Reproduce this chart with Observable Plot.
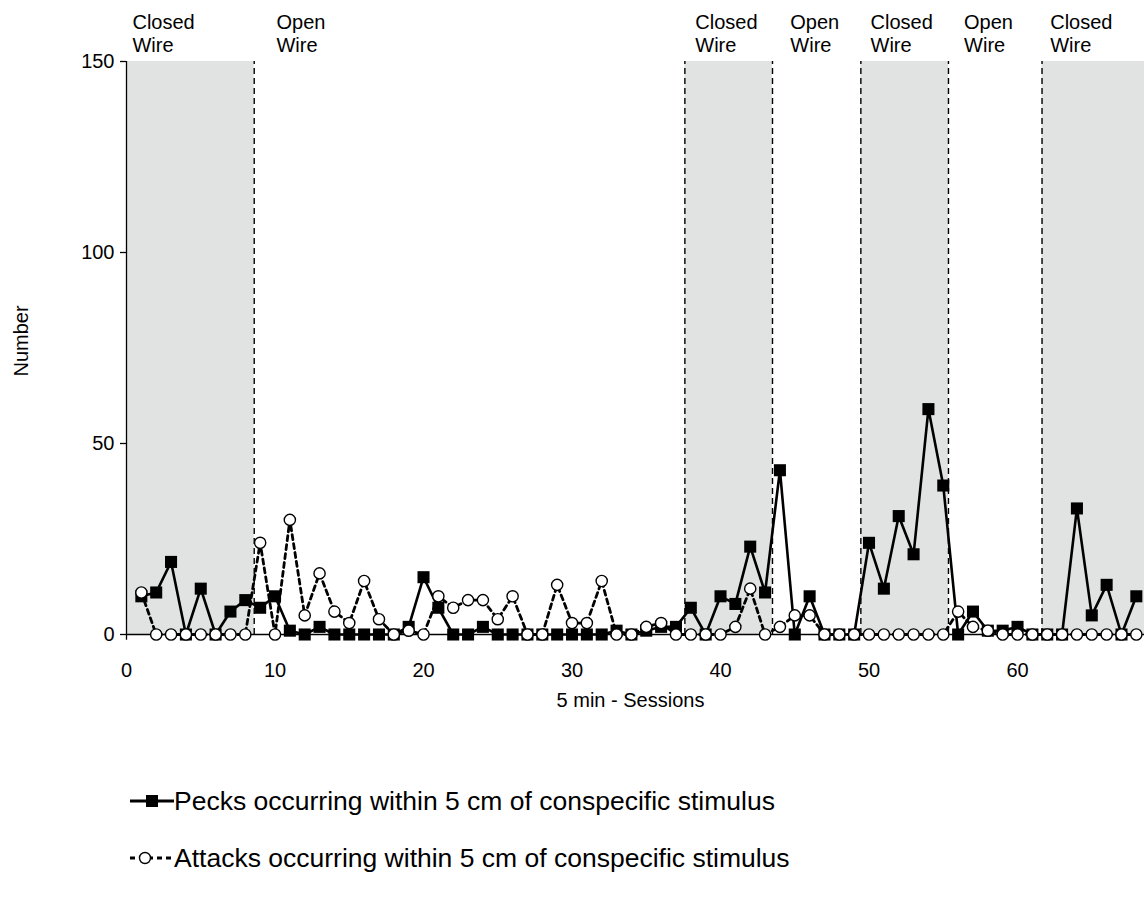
<!DOCTYPE html>
<html><head><meta charset="utf-8">
<script src="https://cdn.jsdelivr.net/npm/d3@7"></script>
<script src="https://cdn.jsdelivr.net/npm/@observablehq/plot@0.6"></script>
<style>
body{margin:0;background:#fff;font-family:"Liberation Sans",Arial,sans-serif;}
#wrap{position:relative;width:1144px;height:898px;overflow:hidden;}
.leg{position:absolute;left:128px;height:40px;display:flex;align-items:center;font-size:26.5px;color:#000;white-space:nowrap;}
.leg svg{flex:none;}
</style></head><body>
<div id="wrap"><div id="chart"></div>
<div class="leg" style="top:781px"><svg width="46" height="40"><line x1="2" x2="46" y1="20" y2="20" stroke="#000" stroke-width="2.8"/><rect x="18" y="14" width="12" height="12" fill="#000"/></svg><span>Pecks occurring within 5 cm of conspecific stimulus</span></div>
<div class="leg" style="top:838px"><svg width="46" height="40"><line x1="2" x2="46" y1="20" y2="20" stroke="#000" stroke-width="2.8" stroke-dasharray="5,4"/><circle cx="17" cy="20" r="5.5" fill="#fff" stroke="#000" stroke-width="1.4"/></svg><span>Attacks occurring within 5 cm of conspecific stimulus</span></div>
</div>
<script>
// Data (sessions 1..68)
const pecks = [10, 11, 19, 0, 12, 0, 6, 9, 7, 10,
  1, 0, 2, 0, 0, 0, 0, 0, 2, 15,
  7, 0, 0, 2, 0, 0, 0, 0, 0, 0,
  0, 0, 1, 0, 1, 2, 2, 7, 0, 10,
  8, 23, 11, 43, 0, 10, 0, 0, 0, 24,
  12, 31, 21, 59, 39, 0, 6, 1, 1, 2,
  0, 0, 0, 33, 5, 13, 0, 10];
const attacks = [11, 0, 0, 0, 0, 0, 0, 0, 24, 0,
  30, 5, 16, 6, 3, 14, 4, 0, 1, 0,
  10, 7, 9, 9, 4, 10, 0, 0, 13, 3,
  3, 14, 0, 0, 2, 3, 0, 0, 0, 0,
  2, 12, 0, 2, 5, 5, 0, 0, 0, 0,
  0, 0, 0, 0, 0, 6, 2, 1, 0, 0,
  0, 0, 0, 0, 0, 0, 0, 0];
const phaseBoundaries = [8.6, 37.6, 43.5, 49.45, 55.35, 61.65];
const closedStart = [0, 37.6, 49.45, 61.65];
const closedEnd = [8.6, 43.5, 55.35, 68.55];
const phaseLabels = ["Closed\nWire", "Open\nWire", "Closed\nWire", "Open\nWire", "Closed\nWire", "Open\nWire", "Closed\nWire"];
const phaseLabelX = [0.4, 10.1, 38.3, 44.7, 50.1, 56.4, 62.2];
const xTicks = [0, 10, 20, 30, 40, 50, 60];
const yTicks = [0, 50, 100, 150];

const peckData = pecks.map((v, i) => ({session: i + 1, value: v}));
const attackData = attacks.map((v, i) => ({session: i + 1, value: v}));
const closedData = closedStart.map((s, i) => ({x1: s, x2: closedEnd[i]}));
const labelData = phaseLabels.map((t, i) => ({x: phaseLabelX[i], text: t}));

const chart = Plot.plot({
  width: 1144,
  height: 740,
  marginLeft: 126,
  marginRight: 0,
  marginTop: 61,
  marginBottom: 106,
  style: {fontFamily: '"Liberation Sans", Arial, sans-serif', fontSize: "20px", color: "#000", background: "#fff", overflow: "visible"},
  x: {domain: [0, 68.55]},
  y: {domain: [0, 150]},
  marks: [
    Plot.rectX(closedData, {x1: "x1", x2: "x2", y1: 0, y2: 150, fill: "#e1e3e3"}),
    Plot.ruleX(phaseBoundaries, {y1: 0, y2: 150, stroke: "#000", strokeWidth: 1.4, strokeDasharray: "6,4"}),
    Plot.ruleY([0], {stroke: "#000", strokeWidth: 1.3}),
    Plot.ruleX([0], {y1: -1.5, y2: 150, stroke: "#000", strokeWidth: 1.3}),
    Plot.axisY({ticks: yTicks, tickSize: 6, tickPadding: 6, fontSize: 20, label: null, strokeWidth: 1.3}),
    Plot.axisX({ticks: xTicks, tickSize: 0, tickPadding: 28, fontSize: 20, label: null}),
    Plot.text(["Number"], {frameAnchor: "left", textAnchor: "middle", dx: -105, dy: -7, rotate: -90, fontSize: 20}),
    Plot.text(["5 min - Sessions"], {frameAnchor: "bottom", dx: -5, dy: 72, fontSize: 20}),
    Plot.text(labelData, {x: "x", y: 150, text: "text", textAnchor: "start", lineAnchor: "bottom", lineHeight: 1.13, dy: -10, fontSize: 20}),
    Plot.line(peckData, {x: "session", y: "value", stroke: "#000", strokeWidth: 2.6}),
    Plot.line(attackData, {x: "session", y: "value", stroke: "#000", strokeWidth: 2.8, strokeDasharray: "5,4"}),
    Plot.dot(peckData, {x: "session", y: "value", symbol: "square", r: 6.8, fill: "#000", stroke: "none"}),
    Plot.dot(attackData, {x: "session", y: "value", symbol: "circle", r: 5.6, fill: "#fff", stroke: "#000", strokeWidth: 1.4})
  ]
});
document.getElementById("chart").appendChild(chart);
</script>
</body></html>
